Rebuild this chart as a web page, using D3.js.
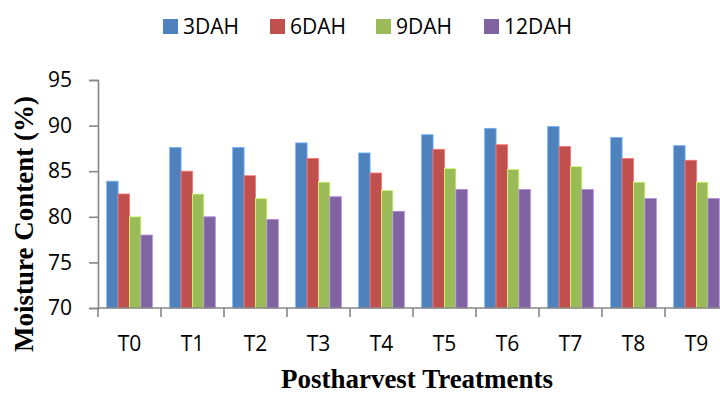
<!DOCTYPE html>
<html>
<head>
<meta charset="utf-8">
<script src="https://cdn.jsdelivr.net/npm/d3@7"></script>
<style>
  body { margin: 0; background: #fff; }
  svg { display: block; }
</style>
</head>
<body>
<div id="chart"></div>
<script>
var width = 720,
    height = 395;

var treatments = ["T0", "T1", "T2", "T3", "T4", "T5", "T6", "T7", "T8", "T9"];
var seriesNames = ["3DAH", "6DAH", "9DAH", "12DAH"];
var dah3  = [83.9, 87.6, 87.6, 88.1, 87.0, 89.0, 89.7, 89.9, 88.7, 87.8];
var dah6  = [82.5, 85.0, 84.5, 86.4, 84.8, 87.4, 87.9, 87.7, 86.4, 86.2];
var dah9  = [80.0, 82.5, 82.0, 83.8, 82.9, 85.3, 85.2, 85.5, 83.8, 83.8];
var dah12 = [78.0, 80.0, 79.7, 82.2, 80.6, 83.0, 83.0, 83.0, 82.0, 82.0];
var yTicks = [70, 75, 80, 85, 90, 95];

var color = ["#4F81BD", "#C0504D", "#9BBB59", "#8064A2"];
var axisColor = "#868686";

var data = treatments.map(function(t, i) {
  return { name: t, values: [dah3[i], dah6[i], dah9[i], dah12[i]] };
});

var svg = d3.select("#chart").append("svg")
    .attr("width", width)
    .attr("height", height);

var x = d3.scaleBand()
    .domain(treatments)
    .range([98, 728])
    .paddingInner(0.276)
    .paddingOuter(0.138);

var x1 = d3.scaleBand()
    .domain(d3.range(seriesNames.length))
    .range([0, x.bandwidth()]);

var y = d3.scaleLinear()
    .domain([70, 95])
    .range([308, 80]);

// bars
var groups = svg.selectAll("g.group")
    .data(data)
  .enter().append("g")
    .attr("class", "group")
    .attr("transform", function(d) { return "translate(" + x(d.name) + ",0)"; });

groups.selectAll("rect")
    .data(function(d) { return d.values; })
  .enter().append("rect")
    .attr("x", function(d, i) { return x1(i); })
    .attr("y", function(d) { return y(d); })
    .attr("width", x1.bandwidth())
    .attr("height", function(d) { return y(70) - y(d); })
    .attr("fill", function(d, i) { return color[i]; })
    .attr("stroke", function(d, i) { return d3.color(color[i]).brighter(0.9); })
    .attr("stroke-width", 0.8);

// y axis
var yAxis = d3.axisLeft(y)
    .tickValues(yTicks)
    .tickSize(9)
    .tickPadding(17);

var yg = svg.append("g")
    .attr("transform", "translate(98,0)")
    .call(yAxis);
yg.select(".domain").attr("stroke", axisColor).attr("stroke-width", 1.6);
yg.selectAll(".tick line").attr("stroke", axisColor).attr("stroke-width", 1.6);
yg.selectAll(".tick text")
    .attr("fill", "#000")
    .style("font-family", "'Open Sans', sans-serif")
    .style("font-size", "21px");

// x axis: line and boundary ticks
var step = x.step();
svg.append("line")
    .attr("x1", 98).attr("x2", width)
    .attr("y1", y(70)).attr("y2", y(70))
    .attr("stroke", axisColor).attr("stroke-width", 1.6);

svg.selectAll("line.xtick")
    .data(treatments)
  .enter().append("line")
    .attr("class", "xtick")
    .attr("x1", function(d) { return x(d) - x.paddingInner() * step / 2; })
    .attr("x2", function(d) { return x(d) - x.paddingInner() * step / 2; })
    .attr("y1", y(70)).attr("y2", y(70) + 9)
    .attr("stroke", axisColor).attr("stroke-width", 1.6);

svg.selectAll("text.xlabel")
    .data(treatments)
  .enter().append("text")
    .attr("class", "xlabel")
    .attr("x", function(d) { return x(d) + x.bandwidth() / 2; })
    .attr("y", 351)
    .attr("text-anchor", "middle")
    .style("font-family", "'Open Sans', sans-serif")
    .style("font-size", "21px")
    .text(function(d) { return d; });

// axis titles
svg.append("text")
    .attr("transform", "translate(33,224) rotate(-90)")
    .attr("text-anchor", "middle")
    .style("font-family", "'Liberation Serif', 'Times New Roman', serif")
    .style("font-weight", "bold")
    .style("font-size", "27px")
    .text("Moisture Content (%)");

svg.append("text")
    .attr("x", 417)
    .attr("y", 388)
    .attr("text-anchor", "middle")
    .style("font-family", "'Liberation Serif', 'Times New Roman', serif")
    .style("font-weight", "bold")
    .style("font-size", "27px")
    .text("Postharvest Treatments");

// legend
var legendX = [163, 270, 376, 484];
var legend = svg.selectAll("g.legend")
    .data(seriesNames)
  .enter().append("g")
    .attr("class", "legend")
    .attr("transform", function(d, i) { return "translate(" + legendX[i] + ",19)"; });

legend.append("rect")
    .attr("width", 15)
    .attr("height", 15)
    .attr("fill", function(d, i) { return color[i]; });

legend.append("text")
    .attr("x", 20)
    .attr("y", 15)
    .style("font-family", "'Open Sans', sans-serif")
    .style("font-size", "21px")
    .text(function(d) { return d; });
</script>
</body>
</html>
